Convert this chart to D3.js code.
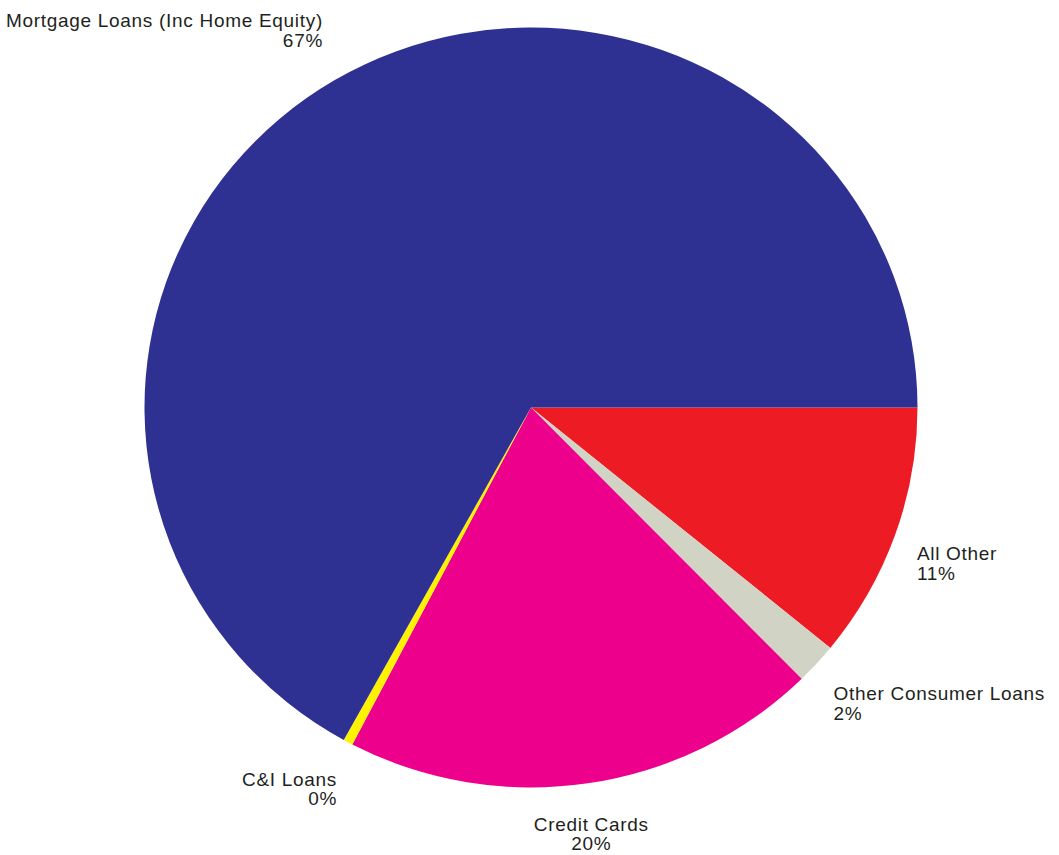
<!DOCTYPE html>
<html>
<head>
<meta charset="utf-8">
<script src="https://cdn.jsdelivr.net/npm/d3@7"></script>
<style>
  html, body { margin: 0; padding: 0; background: #fff; }
  svg { display: block; }
  text { font-family: "Liberation Sans", Arial, Helvetica, sans-serif; font-size: 19px; letter-spacing: 0.7px; fill: #231f20; }
</style>
</head>
<body>
<svg id="chart" width="1059" height="855"></svg>
<script>
// Data (clockwise from 3 o'clock)
const categories = ["All Other", "Other Consumer Loans", "Credit Cards", "C&I Loans", "Mortgage Loans (Inc Home Equity)"];
const values = [10.9, 1.75, 20.0, 0.4, 66.95];
const colors = ["#ed1c24", "#d1d3c4", "#ec008c", "#fff200", "#2e3192"];

const W = 1059, H = 855;
const cx = 531, cy = 407.5;
const rx = 386.5, ry = 380;

const svg = d3.select("#chart");
const data = categories.map((c, i) => ({ name: c, value: values[i], color: colors[i] }));

const pie = d3.pie().sort(null).value(d => d.value)
  .startAngle(Math.PI / 2).endAngle(Math.PI / 2 + 2 * Math.PI);
const arcs = pie(data);
const arc = d3.arc().innerRadius(0).outerRadius(ry);

const g = svg.append("g").attr("transform", `translate(${cx},${cy}) scale(${rx / ry},1)`);
g.selectAll("path").data(arcs).join("path")
  .attr("d", arc)
  .attr("fill", d => d.data.color);

// Labels: nearest corner of the text block sits on the mid-angle ray just outside the pie
const kx = 1.06, ky = 1.09, lineH = 19.5, capH = 13.5, desc = 4;
const labels = svg.append("g");
arcs.forEach(d => {
  const a = (d.startAngle + d.endAngle) / 2;
  const ux = Math.sin(a), uy = -Math.cos(a);
  const px = cx + rx * kx * ux, py = cy + ry * ky * uy;
  let anchor = "middle";
  if (ux > 0.3) anchor = "start"; else if (ux < -0.3) anchor = "end";
  const lines = [d.data.name, Math.round(d.data.value) + "%"];
  let y0;
  if (uy >= 0) y0 = py + capH; else y0 = py - desc - lineH * (lines.length - 1);
  const t = labels.append("text").attr("text-anchor", anchor);
  lines.forEach((s, i) => {
    t.append("tspan").attr("x", px).attr("y", y0 + i * lineH).text(s);
  });
});
</script>
</body>
</html>
